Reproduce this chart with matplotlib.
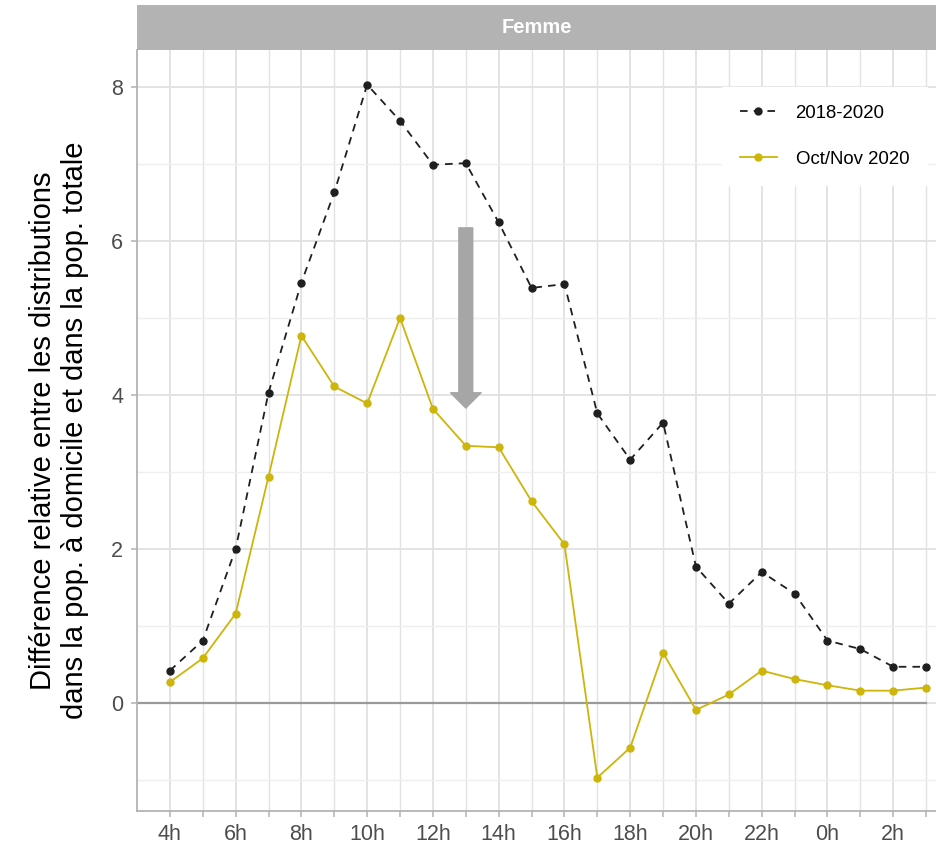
import matplotlib
matplotlib.use('Agg')
import matplotlib.pyplot as plt
from matplotlib.lines import Line2D
import numpy as np

plt.rcParams['font.family'] = ['Liberation Sans', 'DejaVu Sans']

hours = ['4h', '5h', '6h', '7h', '8h', '9h', '10h', '11h', '12h', '13h', '14h', '15h',
         '16h', '17h', '18h', '19h', '20h', '21h', '22h', '23h', '0h', '1h', '2h', '3h']
ref_2018_2020 = [0.42, 0.81, 2.00, 4.03, 5.46, 6.63, 8.03, 7.56, 6.99, 7.01, 6.24, 5.39,
                 5.44, 3.76, 3.16, 3.64, 1.77, 1.29, 1.70, 1.42, 0.81, 0.70, 0.47, 0.47]
oct_nov_2020 = [0.27, 0.58, 1.16, 2.94, 4.77, 4.11, 3.89, 5.00, 3.82, 3.34, 3.32, 2.62,
                2.06, -0.97, -0.58, 0.65, -0.09, 0.11, 0.42, 0.31, 0.23, 0.16, 0.16, 0.20]
arrow_hour = '13h'
arrow_from, arrow_to = 6.17, 3.83

grey_txt = '#4d4d4d'
grid_col = '#e3e3e3'
yellow = '#CDB50A'
dash = (0, (4.2, 3.4))

fig = plt.figure(figsize=(9.36, 8.47), dpi=100)
ax = fig.add_axes([137/936, 36/847, 1 - 137/936, (811-50)/847])

x = np.arange(len(hours))
ax.set_xlim(-1.0, 23.3)
ax.set_ylim(-1.403, 8.48)

# grid
ax.set_xticks(x)
ax.set_xticklabels([h if i % 2 == 0 else '' for i, h in enumerate(hours)])
ax.set_yticks([0, 2, 4, 6, 8])
ax.set_yticks([-1, 1, 3, 5, 7], minor=True)
for xv in x:
    ax.axvline(xv, color=grid_col, lw=1.4 if xv % 2 == 0 else 1.0, zorder=0)
for yv in [0, 2, 4, 6, 8]:
    ax.axhline(yv, color=grid_col, lw=1.4, zorder=0)
for yv in [-1, 1, 3, 5, 7]:
    ax.axhline(yv, color='#efefef', lw=1.0, zorder=0)

ax.axhline(0, xmin=0, xmax=(23 + 1.0) / 24.3, color='#9a9a9a', lw=1.6, zorder=1)

ax.plot(x, ref_2018_2020, color='#1f1f1f', ls=dash, lw=1.3, marker='o',
        ms=5, zorder=3)
ax.plot(x, oct_nov_2020, color=yellow, lw=1.3, marker='o', ms=5, zorder=3)

xa = hours.index(arrow_hour)
ax.annotate('', xy=(xa, arrow_to), xytext=(xa, arrow_from),
            arrowprops=dict(arrowstyle='simple,head_width=2.2,head_length=1.1,tail_width=1.0',
                            color='#a6a6a6', shrinkA=0, shrinkB=0, mutation_scale=10),
            zorder=2)

for s in ['top', 'right']:
    ax.spines[s].set_visible(False)
for s in ['left', 'bottom']:
    ax.spines[s].set_color('#b3b3b3')
    ax.spines[s].set_linewidth(1.3)
ax.tick_params(axis='both', which='major', colors='#b3b3b3', labelcolor=grey_txt,
               labelsize=15.5, length=4, width=1.1)
ax.tick_params(axis='x', which='major', pad=5)
ax.tick_params(axis='y', which='major', pad=6)
ax.tick_params(axis='y', which='minor', length=0)

ax.set_ylabel('Différence relative entre les distributions\ndans la pop. à domicile et dans la pop. totale',
              fontsize=21, color='black', labelpad=16, linespacing=1.15)

handles = [Line2D([], [], color='#1f1f1f', ls=dash, lw=1.3, marker='o', ms=5),
           Line2D([], [], color=yellow, lw=1.3, marker='o', ms=5)]
leg = ax.legend(handles, ['2018-2020', 'Oct/Nov 2020'], loc='upper left',
                bbox_to_anchor=(722/936, 1 - 87/847), bbox_transform=fig.transFigure,
                frameon=True, fancybox=False, fontsize=13.4, handlelength=2.0,
                labelspacing=1.55, borderpad=0.95, handletextpad=1.0, borderaxespad=0)
leg.get_frame().set_facecolor('white')
leg.get_frame().set_edgecolor('white')
leg.get_frame().set_alpha(1)

# facet strip
strip = fig.add_axes([137/936, 1 - 50/847, 1 - 137/936, 45/847])
strip.set_facecolor('#b3b3b3')
strip.set_xticks([])
strip.set_yticks([])
for s in strip.spines.values():
    s.set_visible(False)
strip.text(0.5, 0.5, 'Femme', ha='center', va='center', color='white',
           fontsize=14.5, fontweight='bold', transform=strip.transAxes)

fig.savefig('out.png', dpi=100)
